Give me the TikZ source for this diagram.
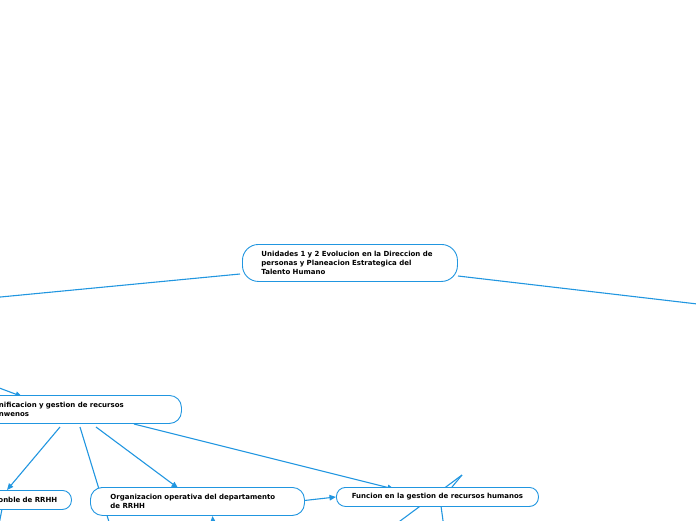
\documentclass[tikz,border=0pt]{standalone}
\usepackage{fontspec}
\newfontfamily\vf{DejaVu Sans}
\usetikzlibrary{arrows.meta}
\definecolor{mapblue}{RGB}{33,150,224}
\pgfdeclarelayer{edgelayer}
\pgfsetlayers{edgelayer,main}
\tikzset{
  topic/.style={draw=mapblue, line width=0.9pt, fill=white, rectangle,
    rounded corners=12pt, anchor=north west, inner ysep=0pt, align=left,
    font=\vf\bfseries\fontsize{7}{9}\selectfont, text=black},
  conn/.style={draw=mapblue, line width=1.1pt},
  arr/.style={conn, -{Triangle[length=6.5pt,width=5.5pt]}}
}
\begin{document}
\begin{tikzpicture}[x=1pt,y=-1pt]
\useasboundingbox (0,0) rectangle (696,520);
% nodes
\node[topic, rounded corners=16pt, minimum height=37pt, inner xsep=19pt, text width=177pt] (root) at (242,244)
  {Unidades 1 y 2 Evolucion en la Direccion de\\personas y Planeacion Estrategica del\\Talento Humano};
\node[topic, minimum height=28pt, inner xsep=56.5pt, text width=126pt] (plan) at (-58,395)
  {nificacion y gestion de recursos\\nwenos};
\node[topic, rounded corners=9pt, minimum height=19pt, inner xsep=14pt, text width=59pt] (resp) at (-16,490)
  {onble de RRHH};
\node[topic, minimum height=28pt, inner xsep=20pt, text width=174pt] (org) at (90,487)
  {Organizacion operativa del departamento\\de RRHH};
\node[topic, rounded corners=9pt, minimum height=19pt, minimum width=202pt, inner xsep=0pt, align=center] (func) at (336,487)
  {Funcion en la gestion de recursos humanos};
% free ends
\coordinate (offL) at (-10,298);
\coordinate (offR) at (706,305);
\coordinate (inL) at (-10,384.5);
\coordinate (downA) at (113,535);
\coordinate (upB) at (214,535);
\coordinate (downC) at (445,535);
\coordinate (downD) at (-3,535);
\coordinate (diagS) at (388,530);
\coordinate (diagE) at (462,475);
\begin{pgfonlayer}{edgelayer}
\draw[conn] (240,274) -- (offL);
\draw[conn] (458,276) -- (offR);
\draw[arr] (inL) -- (22,396.5);
\draw[arr] (60,427) -- (7,490);
\draw[conn] (80,427) -- (downA);
\draw[arr] (96,427) -- (178,488);
\draw[arr] (134,424) -- (394,489);
\draw[arr] (org.east) ++(0,-1) -- (func.west);
\draw[arr] (upB) -- (212.5,516);
\draw[conn] (441,506) -- (downC);
\draw[conn] (2,509) -- (downD);
\draw[conn] (diagS) -- (diagE);
\draw[conn] (452,487) -- (diagE);
\end{pgfonlayer}
\end{tikzpicture}
\end{document}
